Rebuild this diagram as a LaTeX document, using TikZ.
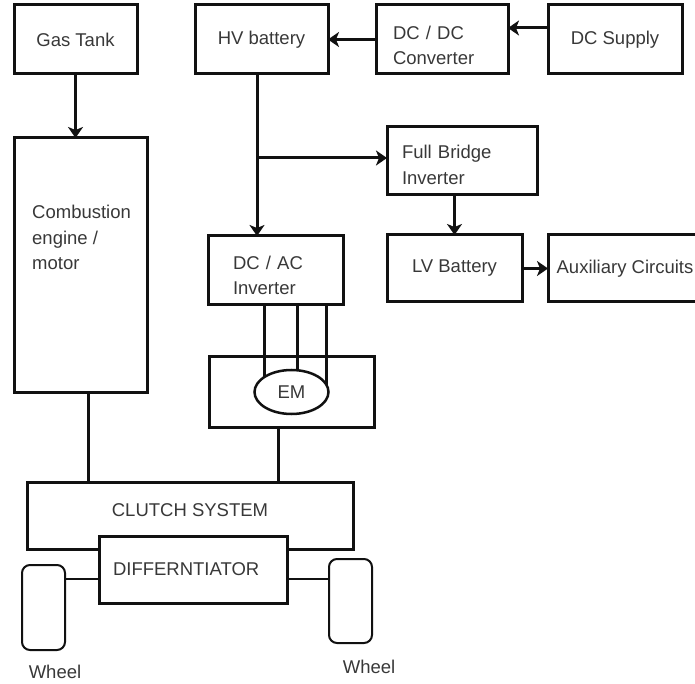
\documentclass[tikz,border=0pt]{standalone}
\usepackage{fontspec}
\setmainfont{Liberation Sans}
\usepackage{tikz}
\usetikzlibrary{arrows.meta, positioning, calc, backgrounds, shapes.geometric}
\definecolor{boxline}{HTML}{111111}
\definecolor{boxtext}{HTML}{383838}

\begin{document}
\begin{tikzpicture}[
    x=1pt, y=1pt,
    every node/.style={font=\fontsize{18.5}{25.5}\selectfont, text=boxtext},
    box/.style={draw=boxline, line width=3pt, minimum height=69pt, outer sep=0pt, inner sep=0pt, align=center},
    lbox/.style={box, align=left},
    wheel/.style={draw=boxline, line width=2pt, rounded corners=8pt, minimum width=43pt, outer sep=0pt},
    arr/.style={-{Stealth[length=11pt, width=15pt, inset=3pt]}, line width=3pt, draw=boxline},
    wire/.style={line width=3pt, draw=boxline}
]
    \useasboundingbox (0,0) rectangle (695,683);
    \clip (0,0) rectangle (695,683);

    % top row
    \node[box, minimum width=123pt] (gas) at (75.5,643.5) {Gas Tank};
    \node[box, minimum width=133pt, right=58pt of gas] (hvb) {HV battery};
    \node[lbox, minimum width=132pt, inner xsep=17pt, text width=98pt, text height=25.5pt, right=48pt of hvb] (dcdc) {DC / DC\\Converter};
    \node[box, minimum width=134pt, right=40pt of dcdc] (dcs) {DC Supply};

    % engine side
    \node[box, minimum width=133pt, minimum height=255pt, below=64pt of gas.south west, anchor=north west] (comb) {};
    \node[align=left, inner sep=0pt, below right=67pt and 18pt of comb.north west] (combtxt) {Combustion\\engine /\\motor};

    % electric side
    \node[lbox, minimum width=150pt, minimum height=68pt, inner xsep=15pt, text width=120pt, text height=21.5pt] (fbi) at (462,522) {Full Bridge\\Inverter};
    \node[lbox, minimum width=135pt, inner xsep=25pt, text width=85pt, text height=23.5pt] (dcac) at (275.5,412.5) {DC / AC\\Inverter};
    \node[box, minimum width=135pt, minimum height=67pt] (lvb) at (454.5,414.5) {LV Battery};
    \node[box, minimum width=154pt, minimum height=67pt, right=26pt of lvb] (aux) {Auxiliary Circuits};
    \node[box, minimum width=165pt, minimum height=70pt] (embox) at (291.5,291) {};
    \node[ellipse, draw=boxline, fill=white, line width=2.5pt, minimum width=74pt, minimum height=44pt, inner sep=0pt] (em) at (embox.center) {EM};

    % drivetrain
    \node[box, minimum width=326pt, minimum height=67pt, text depth=11pt] (clutch) at (190,167.5) {CLUTCH SYSTEM};
    \node[lbox, fill=white, minimum width=188pt, minimum height=67pt, inner xsep=14pt, text width=160pt] (diff) at (193,113.5) {DIFFERNTIATOR};
    \node[wheel, minimum height=85pt] (wheelL) at (43.5,75.5) {};
    \node[wheel, minimum height=84pt] (wheelR) at (350.5,82) {};
    \node (wheelLtxt) at (55,11) {Wheel};
    \node (wheelRtxt) at (369,16) {Wheel};

    % connectors
    \coordinate (hvtap) at (257,525);
    \coordinate (axle) at (0,104.5);
    \draw[arr] (gas.south) -- (gas.south |- comb.north);
    \draw[arr] ([yshift=11.5pt]dcs.west) -- ([yshift=11.5pt]dcdc.east);
    \draw[arr] (dcdc.west) -- (hvb.east);
    \draw[arr] (hvtap |- hvb.south) -- (hvtap |- dcac.north);
    \draw[arr] (hvtap) -- (hvtap -| fbi.west);
    \draw[arr] (lvb.north |- fbi.south) -- (lvb.north);
    \draw[arr] (lvb.east) -- (aux.west);
    \begin{scope}[on background layer]
        \foreach \dx in {-27,6,35}
            \draw[wire] ($(em.center)+(\dx,0)$) -- ($(em.center |- dcac.south)+(\dx,0)$);
    \end{scope}
    \draw[wire] ($(embox.south)+(-13.5,0)$) -- ($(embox.south |- clutch.north)+(-13.5,0)$);
    \draw[wire] ($(comb.south)+(7.5,0)$) -- ($(comb.south |- clutch.north)+(7.5,0)$);
    \draw[wire, line width=2pt] (wheelL.east |- axle) -- (diff.west |- axle);
    \draw[wire, line width=2pt] (diff.east |- axle) -- (wheelR.west |- axle);
\end{tikzpicture}
\end{document}
